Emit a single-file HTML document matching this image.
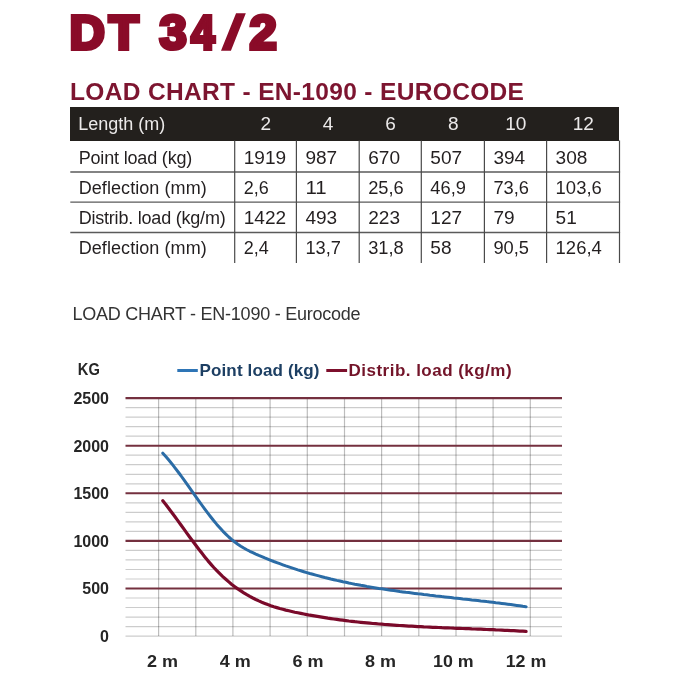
<!DOCTYPE html>
<html><head><meta charset="utf-8"><title>DT 34/2</title>
<style>
html,body{margin:0;padding:0;background:#fff;}
body{width:700px;height:700px;position:relative;overflow:hidden;font-family:"Liberation Sans",Arial,sans-serif;}
.t{position:absolute;white-space:nowrap;line-height:1;}
.tg{position:absolute;top:8.1px;line-height:1;font-weight:bold;font-size:49px;color:#8a0b28;-webkit-text-stroke:4px #8a0b28;transform-origin:0 0;}
#sub{left:70px;top:79.5px;font-weight:bold;font-size:24.5px;color:#7d1530;letter-spacing:0.34px;}
#hdr{position:absolute;left:70.3px;top:107.2px;width:549.2px;height:34.1px;background:#23201d;}
#cap{left:72.5px;top:304.7px;font-size:18px;color:#333;letter-spacing:-0.25px;}
svg{position:absolute;left:0;top:0;}
.th{font-size:18px;fill:#ebe9e9;}
.td{font-size:18px;fill:#231f20;}
.num{letter-spacing:1.1px;}
.ax{font-size:16px;font-weight:bold;fill:#262626;}
.xl{letter-spacing:1.1px;}
.lg{font-size:17px;font-weight:bold;}
</style></head><body>
<div id="title"><span class="tg" style="left:69.5px;transform:scaleX(1.0)">D</span><span class="tg" style="left:108.7px;transform:scaleX(1.0)">T</span> <span class="tg" style="left:159.4px;transform:scaleX(1.0)">3</span><span class="tg" style="left:190.9px;transform:scaleX(0.87)">4</span><span class="tg" style="left:230.5px;transform:translateY(1.5px) skewX(-11deg) scaleY(0.93) scaleX(1.0)">/</span><span class="tg" style="left:249.6px;transform:scaleX(1.0)">2</span></div>
<div class="t" id="sub">LOAD CHART - EN-1090 - EUROCODE</div>
<div id="hdr"></div>
<div class="t" id="cap">LOAD CHART - EN-1090 - Eurocode</div>
<svg width="700" height="700" viewBox="0 0 700 700" font-family="Liberation Sans, Arial, sans-serif">
<line x1="70.3" y1="172" x2="620.1" y2="172" stroke="#5a5a5a" stroke-width="1.3"/>
<line x1="70.3" y1="202.2" x2="620.1" y2="202.2" stroke="#5a5a5a" stroke-width="1.3"/>
<line x1="70.3" y1="232.5" x2="620.1" y2="232.5" stroke="#5a5a5a" stroke-width="1.3"/>
<line x1="234.7" y1="140.5" x2="234.7" y2="263" stroke="#4a4a4a" stroke-width="1.2"/>
<line x1="296.4" y1="140.5" x2="296.4" y2="263" stroke="#4a4a4a" stroke-width="1.2"/>
<line x1="359.2" y1="140.5" x2="359.2" y2="263" stroke="#4a4a4a" stroke-width="1.2"/>
<line x1="421.3" y1="140.5" x2="421.3" y2="263" stroke="#4a4a4a" stroke-width="1.2"/>
<line x1="484.4" y1="140.5" x2="484.4" y2="263" stroke="#4a4a4a" stroke-width="1.2"/>
<line x1="546.6" y1="140.5" x2="546.6" y2="263" stroke="#4a4a4a" stroke-width="1.2"/>
<line x1="619.5" y1="140.5" x2="619.5" y2="263" stroke="#4a4a4a" stroke-width="1.2"/>
<text x="78.3" y="129.7" class="th" textLength="86.9" lengthAdjust="spacing">Length (m)</text>
<text x="260.5" y="129.7" class="th" textLength="10.6" lengthAdjust="spacingAndGlyphs">2</text>
<text x="322.8" y="129.7" class="th" textLength="10.6" lengthAdjust="spacingAndGlyphs">4</text>
<text x="385.2" y="129.7" class="th" textLength="10.6" lengthAdjust="spacingAndGlyphs">6</text>
<text x="447.9" y="129.7" class="th" textLength="10.6" lengthAdjust="spacingAndGlyphs">8</text>
<text x="505.2" y="129.7" class="th" textLength="21.2" lengthAdjust="spacingAndGlyphs">10</text>
<text x="572.7" y="129.7" class="th" textLength="21.2" lengthAdjust="spacingAndGlyphs">12</text>
<text x="78.7" y="163.7" class="td" textLength="113.6" lengthAdjust="spacing">Point load (kg)</text>
<text x="243.7" y="163.7" class="td" textLength="42.4" lengthAdjust="spacingAndGlyphs">1919</text>
<text x="305.4" y="163.7" class="td" textLength="31.8" lengthAdjust="spacingAndGlyphs">987</text>
<text x="368.2" y="163.7" class="td" textLength="31.8" lengthAdjust="spacingAndGlyphs">670</text>
<text x="430.3" y="163.7" class="td" textLength="31.8" lengthAdjust="spacingAndGlyphs">507</text>
<text x="493.4" y="163.7" class="td" textLength="31.8" lengthAdjust="spacingAndGlyphs">394</text>
<text x="555.6" y="163.7" class="td" textLength="31.8" lengthAdjust="spacingAndGlyphs">308</text>
<text x="78.7" y="193.9" class="td" textLength="128" lengthAdjust="spacing">Deflection (mm)</text>
<text x="243.7" y="193.9" class="td" textLength="25.0" lengthAdjust="spacingAndGlyphs">2,6</text>
<text x="305.4" y="193.9" class="td" textLength="21.2" lengthAdjust="spacingAndGlyphs">11</text>
<text x="368.2" y="193.9" class="td" textLength="35.6" lengthAdjust="spacingAndGlyphs">25,6</text>
<text x="430.3" y="193.9" class="td" textLength="35.6" lengthAdjust="spacingAndGlyphs">46,9</text>
<text x="493.4" y="193.9" class="td" textLength="35.6" lengthAdjust="spacingAndGlyphs">73,6</text>
<text x="555.6" y="193.9" class="td" textLength="46.2" lengthAdjust="spacingAndGlyphs">103,6</text>
<text x="78.7" y="223.9" class="td" textLength="147" lengthAdjust="spacing">Distrib. load (kg/m)</text>
<text x="243.7" y="223.9" class="td" textLength="42.4" lengthAdjust="spacingAndGlyphs">1422</text>
<text x="305.4" y="223.9" class="td" textLength="31.8" lengthAdjust="spacingAndGlyphs">493</text>
<text x="368.2" y="223.9" class="td" textLength="31.8" lengthAdjust="spacingAndGlyphs">223</text>
<text x="430.3" y="223.9" class="td" textLength="31.8" lengthAdjust="spacingAndGlyphs">127</text>
<text x="493.4" y="223.9" class="td" textLength="21.2" lengthAdjust="spacingAndGlyphs">79</text>
<text x="555.6" y="223.9" class="td" textLength="21.2" lengthAdjust="spacingAndGlyphs">51</text>
<text x="78.7" y="254.2" class="td" textLength="128" lengthAdjust="spacing">Deflection (mm)</text>
<text x="243.7" y="254.2" class="td" textLength="25.0" lengthAdjust="spacingAndGlyphs">2,4</text>
<text x="305.4" y="254.2" class="td" textLength="35.6" lengthAdjust="spacingAndGlyphs">13,7</text>
<text x="368.2" y="254.2" class="td" textLength="35.6" lengthAdjust="spacingAndGlyphs">31,8</text>
<text x="430.3" y="254.2" class="td" textLength="21.2" lengthAdjust="spacingAndGlyphs">58</text>
<text x="493.4" y="254.2" class="td" textLength="35.6" lengthAdjust="spacingAndGlyphs">90,5</text>
<text x="555.6" y="254.2" class="td" textLength="46.2" lengthAdjust="spacingAndGlyphs">126,4</text>
<line x1="125.5" y1="407.6" x2="562" y2="407.6" stroke="#000" stroke-opacity="0.2" stroke-width="1.2"/>
<line x1="125.5" y1="417.1" x2="562" y2="417.1" stroke="#000" stroke-opacity="0.2" stroke-width="1.2"/>
<line x1="125.5" y1="426.7" x2="562" y2="426.7" stroke="#000" stroke-opacity="0.2" stroke-width="1.2"/>
<line x1="125.5" y1="436.2" x2="562" y2="436.2" stroke="#000" stroke-opacity="0.2" stroke-width="1.2"/>
<line x1="125.5" y1="455.2" x2="562" y2="455.2" stroke="#000" stroke-opacity="0.2" stroke-width="1.2"/>
<line x1="125.5" y1="464.7" x2="562" y2="464.7" stroke="#000" stroke-opacity="0.2" stroke-width="1.2"/>
<line x1="125.5" y1="474.3" x2="562" y2="474.3" stroke="#000" stroke-opacity="0.2" stroke-width="1.2"/>
<line x1="125.5" y1="483.8" x2="562" y2="483.8" stroke="#000" stroke-opacity="0.2" stroke-width="1.2"/>
<line x1="125.5" y1="502.8" x2="562" y2="502.8" stroke="#000" stroke-opacity="0.2" stroke-width="1.2"/>
<line x1="125.5" y1="512.3" x2="562" y2="512.3" stroke="#000" stroke-opacity="0.2" stroke-width="1.2"/>
<line x1="125.5" y1="521.9" x2="562" y2="521.9" stroke="#000" stroke-opacity="0.2" stroke-width="1.2"/>
<line x1="125.5" y1="531.4" x2="562" y2="531.4" stroke="#000" stroke-opacity="0.2" stroke-width="1.2"/>
<line x1="125.5" y1="550.4" x2="562" y2="550.4" stroke="#000" stroke-opacity="0.2" stroke-width="1.2"/>
<line x1="125.5" y1="559.9" x2="562" y2="559.9" stroke="#000" stroke-opacity="0.2" stroke-width="1.2"/>
<line x1="125.5" y1="569.5" x2="562" y2="569.5" stroke="#000" stroke-opacity="0.2" stroke-width="1.2"/>
<line x1="125.5" y1="579.0" x2="562" y2="579.0" stroke="#000" stroke-opacity="0.2" stroke-width="1.2"/>
<line x1="125.5" y1="598.0" x2="562" y2="598.0" stroke="#000" stroke-opacity="0.2" stroke-width="1.2"/>
<line x1="125.5" y1="607.5" x2="562" y2="607.5" stroke="#000" stroke-opacity="0.2" stroke-width="1.2"/>
<line x1="125.5" y1="617.1" x2="562" y2="617.1" stroke="#000" stroke-opacity="0.2" stroke-width="1.2"/>
<line x1="125.5" y1="626.6" x2="562" y2="626.6" stroke="#000" stroke-opacity="0.2" stroke-width="1.2"/>
<line x1="125.5" y1="636.1" x2="562" y2="636.1" stroke="#000" stroke-opacity="0.2" stroke-width="1.2"/>
<line x1="158.6" y1="398.1" x2="158.6" y2="636.1" stroke="#000" stroke-opacity="0.26" stroke-width="1.2"/>
<line x1="195.8" y1="398.1" x2="195.8" y2="636.1" stroke="#000" stroke-opacity="0.26" stroke-width="1.2"/>
<line x1="232.9" y1="398.1" x2="232.9" y2="636.1" stroke="#000" stroke-opacity="0.26" stroke-width="1.2"/>
<line x1="270.1" y1="398.1" x2="270.1" y2="636.1" stroke="#000" stroke-opacity="0.26" stroke-width="1.2"/>
<line x1="307.3" y1="398.1" x2="307.3" y2="636.1" stroke="#000" stroke-opacity="0.26" stroke-width="1.2"/>
<line x1="344.5" y1="398.1" x2="344.5" y2="636.1" stroke="#000" stroke-opacity="0.26" stroke-width="1.2"/>
<line x1="381.6" y1="398.1" x2="381.6" y2="636.1" stroke="#000" stroke-opacity="0.26" stroke-width="1.2"/>
<line x1="418.8" y1="398.1" x2="418.8" y2="636.1" stroke="#000" stroke-opacity="0.26" stroke-width="1.2"/>
<line x1="456.0" y1="398.1" x2="456.0" y2="636.1" stroke="#000" stroke-opacity="0.26" stroke-width="1.2"/>
<line x1="493.1" y1="398.1" x2="493.1" y2="636.1" stroke="#000" stroke-opacity="0.26" stroke-width="1.2"/>
<line x1="530.3" y1="398.1" x2="530.3" y2="636.1" stroke="#000" stroke-opacity="0.26" stroke-width="1.2"/>
<line x1="125.5" y1="398.1" x2="562" y2="398.1" stroke="#74303f" stroke-width="2.1"/>
<line x1="125.5" y1="445.7" x2="562" y2="445.7" stroke="#74303f" stroke-width="2.1"/>
<line x1="125.5" y1="493.3" x2="562" y2="493.3" stroke="#74303f" stroke-width="2.1"/>
<line x1="125.5" y1="540.9" x2="562" y2="540.9" stroke="#74303f" stroke-width="2.1"/>
<line x1="125.5" y1="588.5" x2="562" y2="588.5" stroke="#74303f" stroke-width="2.1"/>
<path d="M162.8 453.2 L165.8 456.6 L168.8 460.1 L171.8 463.7 L174.8 467.6 L177.8 471.5 L180.8 475.5 L183.8 479.7 L186.8 483.8 L189.8 488.1 L192.8 492.3 L195.8 496.6 L198.8 500.8 L201.8 505.0 L204.8 509.1 L207.8 513.1 L210.8 517.0 L213.8 520.8 L216.8 524.4 L219.8 527.8 L222.8 531.1 L225.8 534.1 L228.8 537.0 L231.8 539.6 L234.8 542.0 L237.8 544.2 L240.8 546.2 L243.8 548.0 L246.8 549.7 L249.8 551.3 L252.8 552.7 L255.8 554.1 L258.8 555.4 L261.8 556.6 L264.8 557.9 L267.8 559.1 L270.8 560.3 L273.8 561.5 L276.8 562.6 L279.8 563.7 L282.8 564.8 L285.8 565.9 L288.8 566.9 L291.8 567.9 L294.8 568.9 L297.8 569.9 L300.8 570.8 L303.8 571.7 L306.8 572.6 L309.8 573.5 L312.8 574.3 L315.8 575.1 L318.8 575.9 L321.8 576.7 L324.8 577.5 L327.8 578.2 L330.8 579.0 L333.8 579.7 L336.8 580.4 L339.8 581.0 L342.8 581.7 L345.8 582.3 L348.8 583.0 L351.8 583.6 L354.8 584.2 L357.8 584.7 L360.8 585.3 L363.8 585.8 L366.8 586.4 L369.8 586.9 L372.8 587.4 L375.8 587.9 L378.8 588.4 L381.8 588.8 L384.8 589.3 L387.8 589.8 L390.8 590.2 L393.8 590.6 L396.8 591.0 L399.8 591.5 L402.8 591.9 L405.8 592.3 L408.8 592.6 L411.8 593.0 L414.8 593.4 L417.8 593.8 L420.8 594.1 L423.8 594.5 L426.8 594.8 L429.8 595.2 L432.8 595.5 L435.8 595.9 L438.8 596.2 L441.8 596.6 L444.8 596.9 L447.8 597.2 L450.8 597.5 L453.8 597.9 L456.8 598.2 L459.8 598.5 L462.8 598.9 L465.8 599.2 L468.8 599.5 L471.8 599.9 L474.8 600.2 L477.8 600.5 L480.8 600.9 L483.8 601.2 L486.8 601.6 L489.8 601.9 L492.8 602.3 L495.8 602.7 L498.8 603.0 L501.8 603.4 L504.8 603.8 L507.8 604.2 L510.8 604.6 L513.8 605.0 L516.8 605.4 L519.8 605.8 L522.8 606.3 L525.8 606.7 L526.1 606.8" fill="none" stroke="#2b6ca6" stroke-width="3.0" stroke-linecap="round" stroke-linejoin="round"/>
<path d="M162.8 500.7 L165.8 504.5 L168.8 508.5 L171.8 512.5 L174.8 516.5 L177.8 520.6 L180.8 524.8 L183.8 528.9 L186.8 533.1 L189.8 537.2 L192.8 541.3 L195.8 545.3 L198.8 549.3 L201.8 553.1 L204.8 556.9 L207.8 560.6 L210.8 564.1 L213.8 567.5 L216.8 570.7 L219.8 573.7 L222.8 576.6 L225.8 579.3 L228.8 581.9 L231.8 584.4 L234.8 586.7 L237.8 588.9 L240.8 590.9 L243.8 592.9 L246.8 594.7 L249.8 596.4 L252.8 598.0 L255.8 599.5 L258.8 600.9 L261.8 602.2 L264.8 603.4 L267.8 604.6 L270.8 605.7 L273.8 606.7 L276.8 607.6 L279.8 608.5 L282.8 609.3 L285.8 610.1 L288.8 610.8 L291.8 611.5 L294.8 612.2 L297.8 612.8 L300.8 613.4 L303.8 614.0 L306.8 614.6 L309.8 615.2 L312.8 615.7 L315.8 616.2 L318.8 616.7 L321.8 617.2 L324.8 617.7 L327.8 618.2 L330.8 618.6 L333.8 619.0 L336.8 619.4 L339.8 619.8 L342.8 620.2 L345.8 620.6 L348.8 621.0 L351.8 621.3 L354.8 621.7 L357.8 622.0 L360.8 622.3 L363.8 622.6 L366.8 622.9 L369.8 623.2 L372.8 623.5 L375.8 623.7 L378.8 624.0 L381.8 624.2 L384.8 624.5 L387.8 624.7 L390.8 624.9 L393.8 625.1 L396.8 625.3 L399.8 625.5 L402.8 625.7 L405.8 625.9 L408.8 626.1 L411.8 626.2 L414.8 626.4 L417.8 626.6 L420.8 626.7 L423.8 626.9 L426.8 627.0 L429.8 627.1 L432.8 627.3 L435.8 627.4 L438.8 627.5 L441.8 627.7 L444.8 627.8 L447.8 627.9 L450.8 628.0 L453.8 628.2 L456.8 628.3 L459.8 628.4 L462.8 628.5 L465.8 628.6 L468.8 628.7 L471.8 628.9 L474.8 629.0 L477.8 629.1 L480.8 629.2 L483.8 629.3 L486.8 629.5 L489.8 629.6 L492.8 629.7 L495.8 629.9 L498.8 630.0 L501.8 630.1 L504.8 630.3 L507.8 630.4 L510.8 630.6 L513.8 630.7 L516.8 630.9 L519.8 631.1 L522.8 631.2 L525.8 631.4 L526.1 631.4" fill="none" stroke="#7a0a2a" stroke-width="3.2" stroke-linecap="round" stroke-linejoin="round"/>
<text x="109" y="404.0" class="ax" text-anchor="end">2500</text>
<text x="109" y="451.6" class="ax" text-anchor="end">2000</text>
<text x="109" y="499.2" class="ax" text-anchor="end">1500</text>
<text x="109" y="546.8" class="ax" text-anchor="end">1000</text>
<text x="109" y="594.4" class="ax" text-anchor="end">500</text>
<text x="109" y="642.0" class="ax" text-anchor="end">0</text>
<text x="147.1" y="667.4" class="ax" textLength="31.0" lengthAdjust="spacingAndGlyphs">2 m</text>
<text x="219.8" y="667.4" class="ax" textLength="31.0" lengthAdjust="spacingAndGlyphs">4 m</text>
<text x="292.5" y="667.4" class="ax" textLength="31.0" lengthAdjust="spacingAndGlyphs">6 m</text>
<text x="365.1" y="667.4" class="ax" textLength="31.0" lengthAdjust="spacingAndGlyphs">8 m</text>
<text x="433.0" y="667.4" class="ax" textLength="40.6" lengthAdjust="spacingAndGlyphs">10 m</text>
<text x="505.7" y="667.4" class="ax" textLength="40.6" lengthAdjust="spacingAndGlyphs">12 m</text>
<text x="77.8" y="375.1" class="ax" textLength="22" lengthAdjust="spacingAndGlyphs">KG</text>
<line x1="177.3" y1="370.5" x2="197.8" y2="370.5" stroke="#2e75b6" stroke-width="3"/>
<text x="199.5" y="376.3" class="lg" fill="#1d3f63" textLength="120" lengthAdjust="spacing">Point load (kg)</text>
<line x1="326.3" y1="370.5" x2="347.1" y2="370.5" stroke="#7d0f2c" stroke-width="3"/>
<text x="348.6" y="376.3" class="lg" fill="#731429" textLength="163" lengthAdjust="spacing">Distrib. load (kg/m)</text>
</svg>
</body></html>
